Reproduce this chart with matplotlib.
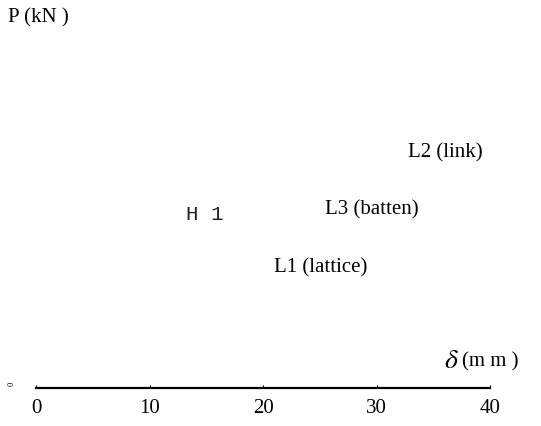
import numpy as np
import matplotlib.pyplot as plt

plt.rcParams['mathtext.fontset'] = 'stix'

# axis data
x_ticks = [0, 10, 20, 30, 40]
x_tick_labels = ['0', '10', '20', '30', '40']

# curve labels: text, x position (mm), height as axes fraction
curve_names = ['L2 (link)', 'L3 (batten)', 'L1 (lattice)']
curve_x = [32.8, 25.5, 21.0]
curve_y = [0.622, 0.471, 0.317]

h1_name = 'H 1'
h1_x = 13.2
h1_y = 0.458

fig = plt.figure(figsize=(5.41, 4.26), dpi=100)
ax = fig.add_axes([36/541, 1 - 388/426, (490 - 36)/541, (388 - 10)/426])

ax.set_xlim(0, 40)
ax.set_ylim(0, 1)
for s in ['top', 'right', 'left']:
    ax.spines[s].set_visible(False)
ax.spines['bottom'].set_linewidth(1.6)
ax.set_yticks([])
ax.set_xticks(x_ticks)
ax.set_xticklabels(x_tick_labels, fontfamily='Liberation Serif', fontsize=15)
ax.tick_params(axis='x', direction='in', length=2, width=0.8, pad=8)

for name, xv, yv in zip(curve_names, curve_x, curve_y):
    ax.text(xv, yv, name, fontfamily='Liberation Serif', fontsize=15,
            ha='left', va='center')

ax.text(h1_x, h1_y, h1_name, fontfamily='Liberation Mono', fontsize=15,
        ha='left', va='center', color='#222222')

# axis titles
fig.text(444/541, 1 - 360/426, r'$\delta$', fontsize=20, ha='left', va='center')
fig.text(462/541, 1 - 362/426, '(m m )', fontsize=15, ha='left', va='center',
         fontfamily='Liberation Serif')
fig.text(8/541, 1 - 18/426, 'P (kN )', fontsize=15, ha='left', va='center',
         fontfamily='Liberation Serif')
fig.text(12/541, 1 - 384/426, '0', fontsize=6, rotation=90, ha='center',
         va='center', fontfamily='Liberation Serif')

fig.savefig('out.png', dpi=100)
